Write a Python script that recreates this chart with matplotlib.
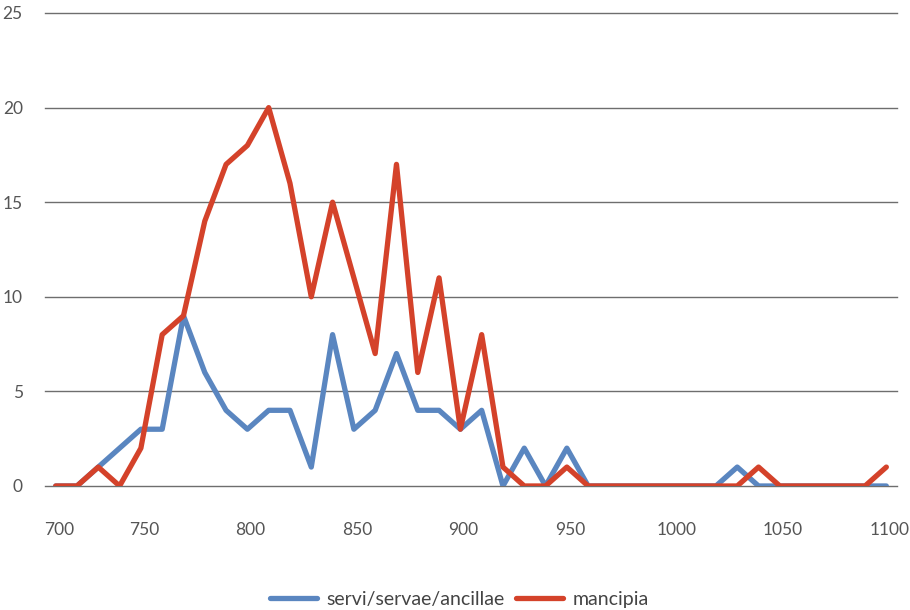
import matplotlib.pyplot as plt

# 40 Kategorien (Jahre), Beschriftungen nur an einigen Stellen
servi = [0, 0, 1, 2, 3, 3, 9, 6, 4, 3,
         4, 4, 1, 8, 3, 4, 7, 4, 4, 3,
         4, 0, 2, 0, 2, 0, 0, 0, 0, 0,
         0, 0, 1, 0, 0, 0, 0, 0, 0, 0]
mancipia = [0, 0, 1, 0, 2, 8, 9, 14, 17, 18,
            20, 16, 10, 15, 11, 7, 17, 6, 11, 3,
            8, 1, 0, 0, 1, 0, 0, 0, 0, 0,
            0, 0, 0, 1, 0, 0, 0, 0, 0, 1]
tick_idx = [0, 4, 9, 14, 19, 24, 29, 34, 39]
tick_labels = ['700', '750', '800', '850', '900', '950', '1000', '1050', '1100']

plt.rcParams['font.family'] = ['Lato', 'DejaVu Sans']

fig = plt.figure(figsize=(9.1, 6.1), dpi=100)
ax = fig.add_axes([0.0495, 0.2033, 0.9362, 0.7754])

x = list(range(len(servi)))
ax.plot(x, servi, color='#5a86c0', lw=3.8, solid_joinstyle='round',
        solid_capstyle='round', label='servi/servae/ancillae', zorder=3)
ax.plot(x, mancipia, color='#d4422a', lw=3.8, solid_joinstyle='round',
        solid_capstyle='round', label='mancipia', zorder=4)

ax.set_xlim(-0.5, 39.5)
ax.set_ylim(0, 25)
ax.set_yticks(range(0, 26, 5))
ax.set_xticks([i + 0.15 for i in tick_idx])
ax.set_xticklabels(tick_labels)
ax.yaxis.grid(True, color='#6e6e6e', lw=1.0)
for gl in ax.get_ygridlines():
    gl.set_clip_on(False)
ax.set_axisbelow(True)
for s in ax.spines.values():
    s.set_visible(False)
ax.tick_params(axis='both', length=0, labelsize=12.5, colors='#555555')
ax.tick_params(axis='x', pad=26)
ax.tick_params(axis='y', pad=16)

fig.legend(loc='lower center', bbox_to_anchor=(0.505, -0.025), ncol=2,
           frameon=False, fontsize=14, handlelength=2.4, columnspacing=0.6,
           handletextpad=0.5, labelcolor='#444444')

fig.savefig('out.png', dpi=100)
